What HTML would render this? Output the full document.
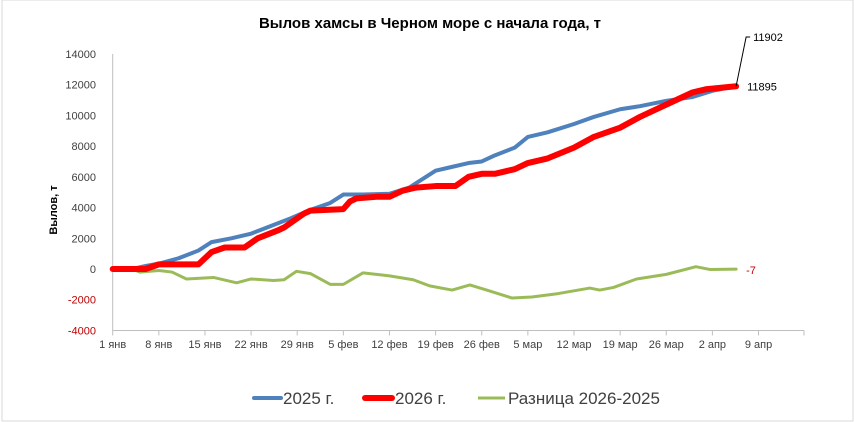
<!DOCTYPE html>
<html><head><meta charset="utf-8"><style>
body{margin:0;background:#fff;}
svg{display:block;font-family:"Liberation Sans","DejaVu Sans",sans-serif;}
</style></head><body>
<svg id="chart" width="854" height="422" viewBox="0 0 854 422">
<rect x="2" y="0" width="851" height="421" fill="#fff" stroke="#d9d9d9"/>
<text x="430" y="28" text-anchor="middle" font-size="15" font-weight="bold" fill="#000">Вылов хамсы в Черном море с начала года, т</text>
<text transform="translate(57,210) rotate(-90)" text-anchor="middle" font-size="11" font-weight="bold">Вылов, т</text>
<g id="axes"></g>
<g id="series"></g>
<g>
<line x1="254" y1="398" x2="281" y2="398" stroke="#4f81bd" stroke-width="4" stroke-linecap="round"/>
<text x="283" y="404" font-size="17" fill="#404040">2025 г.</text>
<line x1="365" y1="398" x2="392" y2="398" stroke="#ff0000" stroke-width="6" stroke-linecap="round"/>
<text x="395" y="404" font-size="17" fill="#404040">2026 г.</text>
<line x1="478" y1="398" x2="505" y2="398" stroke="#9bbb59" stroke-width="3"/>
<text x="508" y="404" font-size="17" fill="#404040">Разница 2026-2025</text>
</g>
</svg>
<script>
const yTicks=[14000,12000,10000,8000,6000,4000,2000,0,-2000,-4000];
const xTickLabels=["1 янв","8 янв","15 янв","22 янв","29 янв","5 фев","12 фев","19 фев","26 фев","5 мар","12 мар","19 мар","26 мар","2 апр","9 апр"];
const days2025=[0,3,5,7,10,13,15,18,21,24,27,30,33,35,38,42,45,49,51,54,56,58,61,63,66,70,73,77,80,84,88,91,94.6];
const vals2025=[0,0,200,350,700,1200,1750,2000,2300,2800,3300,3850,4300,4850,4850,4900,5300,6400,6600,6900,7000,7400,7900,8600,8900,9440,9900,10400,10600,10950,11200,11600,11902];
const days2026=[0,3,5,7,10,13,15,17,20,22,25,26,29,30,35,36,37,40,42,44,46,49,52,54,56,58,61,63,66,70,73,77,80,84,88,90,94.6];
const vals2026=[0,0,0,300,300,300,1100,1400,1400,2000,2500,2700,3600,3800,3900,4400,4600,4700,4700,5100,5300,5400,5400,6000,6200,6200,6500,6900,7200,7900,8600,9200,9900,10700,11500,11700,11895];
const daysDiff=[0,3,4.1,7,9,11.2,15.3,18.8,21,24.4,26,27.9,30,33,35,38,42,45.6,48.1,51.5,54.2,57,60.6,63.6,67.6,72.4,73.9,76,79.5,84,88.5,90.6,94.6];
const valsDiff=[0,0,-200,-100,-200,-650,-550,-900,-650,-750,-700,-150,-300,-1000,-1000,-250,-450,-700,-1100,-1370,-1040,-1400,-1890,-1820,-1600,-1240,-1370,-1200,-650,-350,150,-30,-7];
const NS="http://www.w3.org/2000/svg";
const x0=112.7,pxPerDay=6.59,y0=269,pxPer=15.36/1000;
const X=d=>x0+d*pxPerDay, Y=v=>y0-v*pxPer;
function mk(t,a,p){const e=document.createElementNS(NS,t);for(const k in a)e.setAttribute(k,a[k]);p.appendChild(e);return e;}
const axes=document.getElementById('axes'), ser=document.getElementById('series');
const ya=mk('line',{x1:x0,y1:Y(14000),x2:x0,y2:Y(-4000),stroke:'#bfbfbf'},axes);


const xa=mk('line',{x1:x0,y1:Y(-4000),x2:804,y2:Y(-4000),stroke:'#bfbfbf'},axes);


yTicks.forEach(v=>{const t=mk('text',{x:96,y:Y(v)+4,'text-anchor':'end','font-size':'11',fill:v<0?'#c00000':'#404040'},axes);t.textContent=v;

});
xTickLabels.forEach((l,i)=>{const x=X(i*7);
const tk=mk('line',{x1:x,y1:Y(-4000),x2:x,y2:Y(-4000)+5,stroke:'#bfbfbf'},axes);


const t=mk('text',{x:x,y:348,'text-anchor':'middle','font-size':'11',fill:'#404040'},axes);t.textContent=l;

});
const tkEnd=mk('line',{x1:804,y1:Y(-4000),x2:804,y2:Y(-4000)+5,stroke:'#bfbfbf'},axes);


function line(ds,vs,color,w,name){const p=mk('polyline',{points:ds.map((d,i)=>X(d)+','+Y(vs[i])).join(' '),fill:'none',stroke:color,'stroke-width':w,'stroke-linejoin':'round','stroke-linecap':'round'},ser);

return p;}
line(daysDiff,valsDiff,'#9bbb59',3,'series-diff');
line(days2025,vals2025,'#4f81bd',4,'series-2025');
line(days2026,vals2026,'#ff0000',6,'series-2026');
const ex=X(days2025[days2025.length-1]), ey=Y(vals2025[vals2025.length-1]);
const lead=mk('polyline',{points:ex+','+ey+' '+(ex+10)+',37 '+(ex+14)+',37',fill:'none',stroke:'#000','stroke-width':1},ser);


const l1=mk('text',{x:ex+17,y:41,'font-size':'11',fill:'#000'},ser);l1.textContent=vals2025[vals2025.length-1];


const l2=mk('text',{x:ex+11,y:Y(vals2026[vals2026.length-1])+4,'font-size':'11',fill:'#000'},ser);l2.textContent=vals2026[vals2026.length-1];


const l3=mk('text',{x:ex+10,y:Y(valsDiff[valsDiff.length-1])+5,'font-size':'11',fill:'#c00000'},ser);l3.textContent=valsDiff[valsDiff.length-1];


</script>
</body></html>
